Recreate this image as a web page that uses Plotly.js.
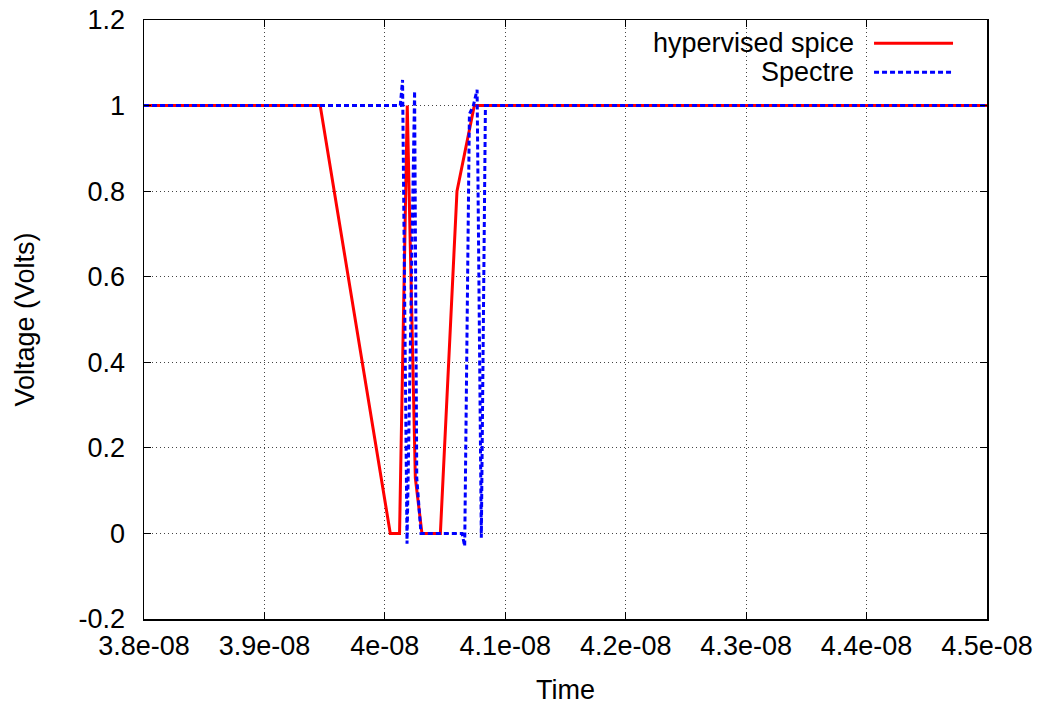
<!DOCTYPE html>
<html>
<head>
<meta charset="utf-8">
<script src="https://cdn.plot.ly/plotly-3.0.1.min.js"></script>
<style>
html,body{margin:0;padding:0;background:#fff;}
#chart{width:1042px;height:711px;}
</style>
</head>
<body>
<div id="chart"></div>
<script>
// Data (time in seconds, voltage in volts)
const hspiceTime = [3.8e-8, 3.9463e-8, 4.0045e-8, 4.0122e-8, 4.0186e-8, 4.0253e-8, 4.0308e-8, 4.0461e-8, 4.0599e-8, 4.0743e-8, 4.5e-8];
const hspiceVolt = [1, 1, 0, 0, 1, 0.13, 0, 0, 0.8, 1, 1];

const spectreTime = [3.8e-8, 4.0128e-8, 4.0147e-8, 4.0184e-8, 4.0247e-8, 4.0265e-8, 4.0300e-8, 4.0641e-8, 4.0663e-8, 4.0702e-8, 4.0735e-8, 4.0766e-8, 4.0801e-8, 4.0835e-8, 4.5e-8];
const spectreVolt = [1, 1, 1.06, -0.024, 1.034, 0.13, 0, 0, -0.03, 0.98, 1.0, 1.037, -0.01, 1.0, 1];

const xTickVals = [3.8e-8, 3.9e-8, 4.0e-8, 4.1e-8, 4.2e-8, 4.3e-8, 4.4e-8, 4.5e-8];
const xTickText = ["3.8e-08", "3.9e-08", "4e-08", "4.1e-08", "4.2e-08", "4.3e-08", "4.4e-08", "4.5e-08"];
const yTickVals = [-0.2, 0, 0.2, 0.4, 0.6, 0.8, 1.0, 1.2];
const yTickText = ["-0.2", "0", "0.2", "0.4", "0.6", "0.8", "1", "1.2"];

const seriesNames = ["hypervised spice", "Spectre"];
const RED = "#ff0000", BLUE = "#0000ff";
const FONT = "Liberation Sans, Arial, Helvetica, sans-serif";
const FS = 27;

const traces = [
  {x: hspiceTime, y: hspiceVolt, mode: "lines", name: seriesNames[0],
   line: {color: RED, width: 3}, showlegend: false},
  {x: spectreTime, y: spectreVolt, mode: "lines", name: seriesNames[1],
   line: {color: BLUE, width: 3, dash: "5px,3px"}, showlegend: false}
];

const axisCommon = {
  showline: true, linecolor: "#000", linewidth: 1.5, mirror: "ticks",
  ticks: "inside", ticklen: 7, tickcolor: "#000", tickwidth: 1,
  showgrid: true, gridcolor: "#444", griddash: "1px,3px", gridwidth: 1,
  zeroline: false, tickfont: {family: FONT, size: FS, color: "#000"}
};

const layout = {
  width: 1042, height: 711,
  paper_bgcolor: "#fff", plot_bgcolor: "#fff",
  margin: {l: 144, r: 55, t: 20, b: 92},
  font: {family: FONT, size: FS, color: "#000"},
  xaxis: Object.assign({}, axisCommon, {
    range: [3.8e-8, 4.5e-8], tickmode: "array", tickvals: xTickVals, ticktext: xTickText,
    ticklabelstandoff: 2,
    title: {text: "Time", font: {family: FONT, size: FS, color: "#000"}, standoff: 20}
  }),
  yaxis: Object.assign({}, axisCommon, {
    range: [-0.2, 1.2], tickmode: "array", tickvals: yTickVals, ticktext: yTickText,
    ticklabelstandoff: 12,
    title: {text: "Voltage (Volts)", font: {family: FONT, size: FS, color: "#000"}, standoff: 36}
  }),
  annotations: [
    {xref: "paper", yref: "paper", x: 0.8446, y: 0.961, xanchor: "right", yanchor: "middle",
     text: seriesNames[0], showarrow: false, font: {family: FONT, size: FS, color: "#000"}},
    {xref: "paper", yref: "paper", x: 0.8446, y: 0.9127, xanchor: "right", yanchor: "middle",
     text: seriesNames[1], showarrow: false, font: {family: FONT, size: FS, color: "#000"}}
  ],
  shapes: [
    {type: "line", xref: "paper", yref: "paper", x0: 0.866, x1: 0.9597, y0: 0.961, y1: 0.961,
     line: {color: RED, width: 3}},
    {type: "line", xref: "paper", yref: "paper", x0: 0.866, x1: 0.9597, y0: 0.9127, y1: 0.9127,
     line: {color: BLUE, width: 3, dash: "5px,3px"}}
  ]
};

Plotly.newPlot("chart", traces, layout, {displayModeBar: false, staticPlot: true});
</script>
</body>
</html>
